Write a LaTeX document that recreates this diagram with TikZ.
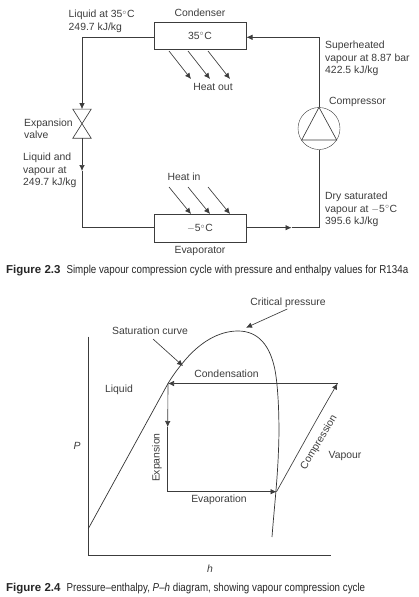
\documentclass[tikz,border=0pt]{standalone}
\usepackage{fontspec}
\setmainfont{Liberation Sans}
\newfontfamily\capfont[FakeStretch=0.85]{Liberation Sans}
\usetikzlibrary{arrows.meta, positioning}
\definecolor{inkgray}{RGB}{60, 60, 60}

\begin{document}
\begin{tikzpicture}[
        x=1pt, y=-1pt,
        box/.style={rectangle, draw=inkgray, minimum width=92.5pt, minimum height=27.5pt, inner sep=0pt},
        lbl/.style={inkgray, inner sep=0pt, align=left, font=\fontsize{10.4}{12.6}\selectfont},
        figcap/.style={black!85, inner sep=0pt, anchor=west, font=\fontsize{11.5}{12}\selectfont},
        pipe/.style={inkgray, line width=0.65pt},
        arrow/.style={-{Latex[length=6pt, width=5.5pt]}, inkgray, line width=0.65pt},
        thin curve/.style={black!80, line width=0.7pt}
      ]
        \useasboundingbox (0,0) rectangle (419,597);
        % vapour compression cycle
        \node[box] (condenser) at (200,35.5) {};
        \node[lbl] (t35) at (200,36) {35$^{\circ}$C};
        \node[box] (evaporator) at (200,228) {};
        \node[lbl] (tm5) at (200,228.5) {$-$5$^{\circ}$C};
        \node[circle, draw=inkgray, minimum size=42pt, inner sep=0pt] (comp) at (319,128.5) {};
        \node[minimum width=18pt, minimum height=28.7pt, inner sep=0pt] (valve) at (82,123.7) {};
        \draw[pipe] (valve.north west) -- (valve.north east) -- (valve.south west) -- (valve.south east) -- cycle;
        \coordinate (tribl) at (301.7,140);
        \coordinate (tribr) at (336.7,140);
        \draw[pipe] (comp.north) -- (tribr) -- (tribl) -- cycle;
        \coordinate (condin) at (246.5,37.3);
        \coordinate (condout) at (154,37.3);
        \coordinate (evapin) at (154,227.7);
        \coordinate (evapout) at (246.5,227.7);
        \coordinate (midright) at (291.5,227.7);
        \coordinate (midleft) at (82,171);
        \draw[arrow] (comp.north) |- (condin);
        \draw[arrow] (condout) -| (valve.north);
        \draw[arrow] (valve.south) -- (midleft);
        \draw[pipe] (midleft) |- (evapin);
        \draw[arrow] (evapout) -- (midright);
        \draw[pipe] (midright) -| (comp.south);
        % heat arrows
        \foreach \i/\dx in {1/0, 2/19, 3/39} {
          \coordinate (ho\i) at (169+\dx,51);
          \coordinate (hoe\i) at (191+\dx,79);
          \coordinate (hi\i) at (169+\dx,187);
          \coordinate (hie\i) at (191+\dx,214);
          \draw[arrow] (ho\i) -- (hoe\i);
          \draw[arrow] (hi\i) -- (hie\i);
        }
        \node[lbl] (lcond) at (200,13) {Condenser};
        \node[lbl] (lout) at (213,86.5) {Heat out};
        \node[lbl] (lin) at (184,177) {Heat in};
        \node[lbl] (levap) at (200,251) {Evaporator};
        \node[lbl, anchor=north west] (lliq) at (68.5,10) {Liquid at 35$^{\circ}$C\\249.7 kJ/kg};
        \node[lbl, anchor=north west] (lvalve) at (24,118.5) {Expansion\\valve};
        \node[lbl, anchor=north west] (lmix) at (23,152.7) {Liquid and\\vapour at\\249.7 kJ/kg};
        \node[lbl, anchor=north west] (lsup) at (325,41) {Superheated\\vapour at 8.87 bar\\422.5 kJ/kg};
        \node[lbl, anchor=west] (lcomp) at (329,101.5) {Compressor};
        \node[lbl, anchor=north west] (ldry) at (325,192) {Dry saturated\\vapour at $-$5$^{\circ}$C\\395.6 kJ/kg};
        \node[figcap] (cap1) at (6,271) {\textbf{Figure 2.3}\hspace{6pt}{\capfont Simple vapour compression cycle with pressure and enthalpy values for R134a}};
        % pressure-enthalpy diagram
        \coordinate (axtop) at (88.3,336.7);
        \coordinate (axorg) at (88.3,555.7);
        \coordinate (axend) at (331,555.7);
        \coordinate (a) at (168,383.5);
        \coordinate (b) at (276.5,491.7);
        \coordinate (c) at (337.5,383.5);
        \coordinate (d) at (167.7,491.7);
        \coordinate (midvert) at (167.7,427);
        \draw[pipe] (axtop) -- (axorg) -- (axend);
        \draw[thin curve] (88.3,528.7) -- (a) .. controls (174,373.5) and (180,366) .. (186,359)
          .. controls (200,343) and (218,331) .. (238,331)
          .. controls (258,331) and (270,345) .. (275,370)
          .. controls (279,392) and (279.5,430) .. (278.5,450)
          .. controls (277.5,480) and (274,510) .. (272,537);
        \draw[arrow] (c) -- (a);
        \draw[arrow] (a) -- (midvert);
        \draw[pipe] (midvert) -- (d);
        \draw[arrow] (d) -- (b);
        \draw[arrow] (b) .. controls (296,457) and (316,420) .. (c);
        \coordinate (satfrom) at (153,339);
        \coordinate (satto) at (183,366);
        \coordinate (critfrom) at (287.3,309);
        \coordinate (critto) at (246,327.7);
        \draw[arrow] (satfrom) -- (satto);
        \draw[arrow] (critfrom) -- (critto);
        \node[lbl] (lcrit) at (288,303) {Critical pressure};
        \node[lbl] (lsat) at (150,331) {Saturation curve};
        \node[lbl] (lcon) at (226.5,374) {Condensation};
        \node[lbl] (lliquid) at (119,390) {Liquid};
        \node[lbl, font=\fontsize{10.4}{12}\selectfont\itshape] (lp) at (77,446) {P};
        \node[lbl, rotate=90] (lexp) at (157,457.7) {Expansion};
        \node[lbl] (leva) at (219,500) {Evaporation};
        \node[lbl, rotate=59] (lcpr) at (319,442.5) {Compression};
        \node[lbl] (lvap) at (345,456) {Vapour};
        \node[lbl, font=\fontsize{10.4}{12}\selectfont\itshape] (lh) at (210,569) {h};
        \node[figcap] (cap2) at (6,589) {\textbf{Figure 2.4}\hspace{6pt}{\capfont Pressure–enthalpy, \textit{P–h} diagram, showing vapour compression cycle}};
      \end{tikzpicture}
\end{document}
